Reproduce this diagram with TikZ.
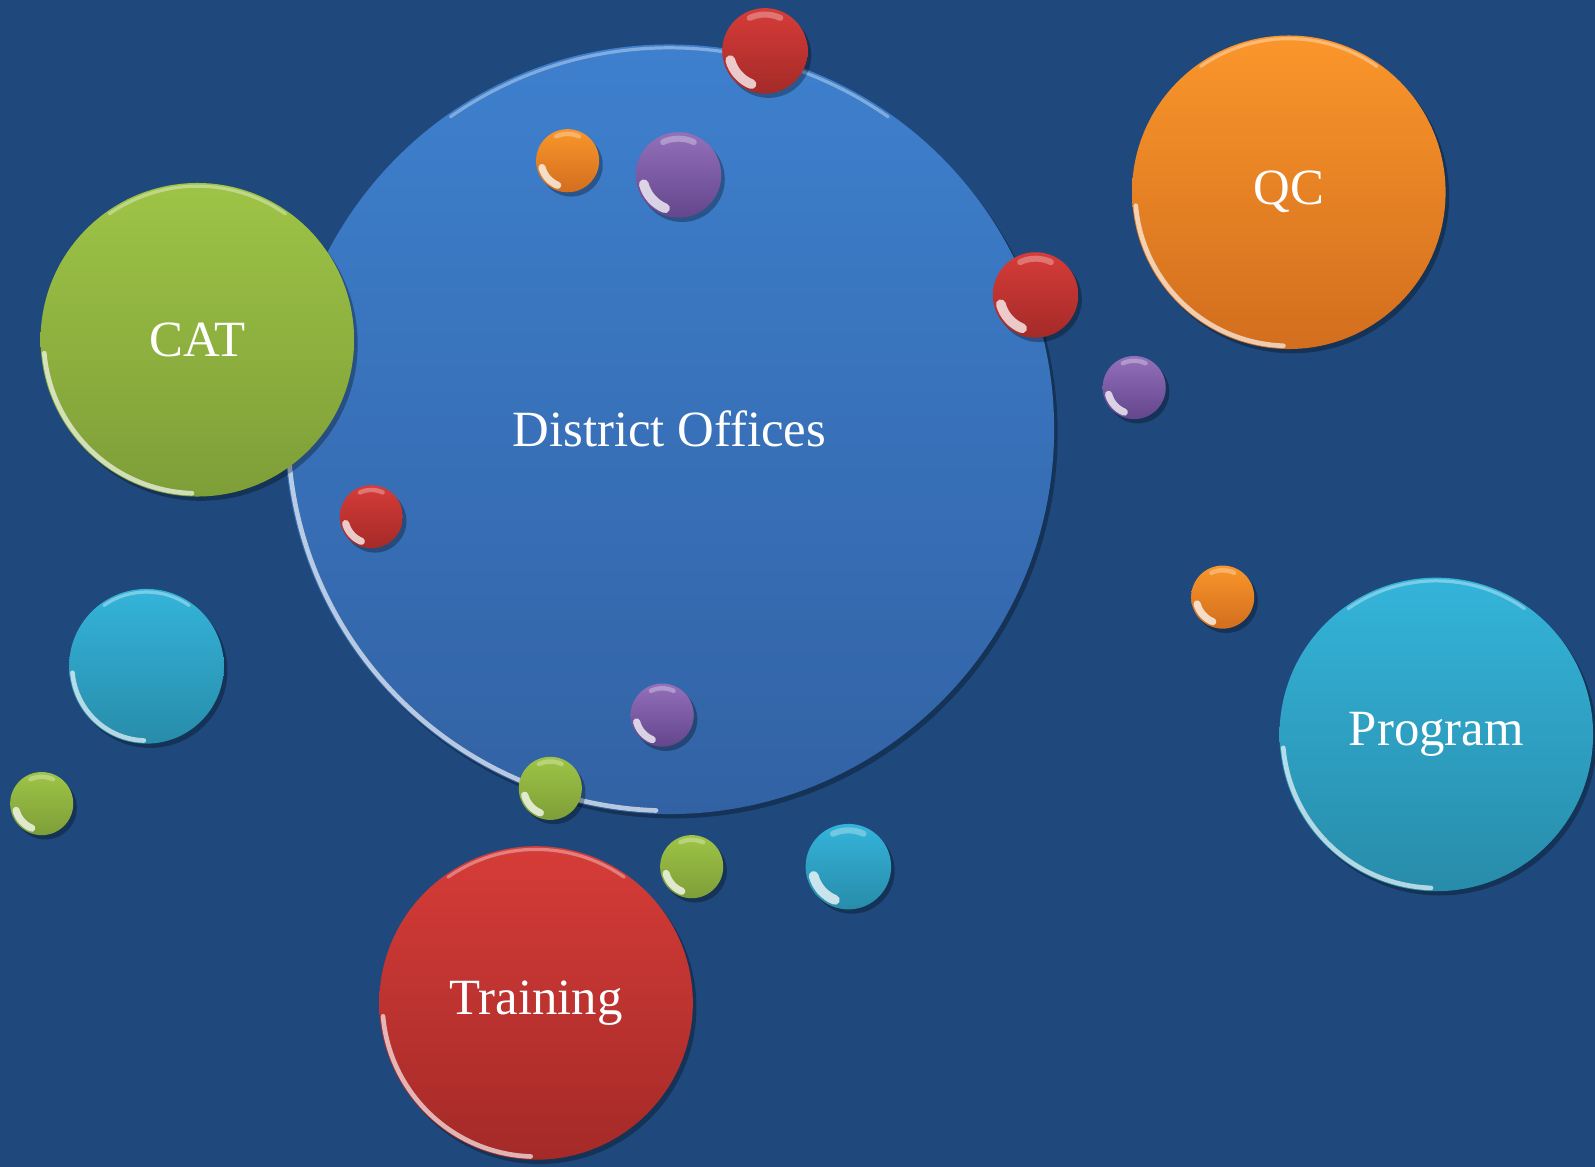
\documentclass[tikz,border=0pt]{standalone}
\usepackage{fontspec}
\setmainfont{Liberation Serif}
\usetikzlibrary{shadows}
\definecolor{bgblue}{RGB}{31,73,125}
\definecolor{bluetop}{RGB}{62,128,206}
\definecolor{bluebot}{RGB}{50,98,164}
\definecolor{greentop}{RGB}{158,196,70}
\definecolor{greenbot}{RGB}{126,158,56}
\definecolor{redtop}{RGB}{214,60,56}
\definecolor{redbot}{RGB}{164,42,40}
\definecolor{orangetop}{RGB}{250,150,42}
\definecolor{orangebot}{RGB}{210,110,30}
\definecolor{cyantop}{RGB}{52,180,218}
\definecolor{cyanbot}{RGB}{40,140,170}
\definecolor{purpletop}{RGB}{146,112,186}
\definecolor{purplebot}{RGB}{100,70,140}
\tikzset{
  bub/.style={circle, inner sep=0pt, text=white,
    font=\fontsize{14.2}{17}\selectfont,
    drop shadow={shadow xshift=1pt, shadow yshift=-1.2pt, opacity=0.3, fill=black}},
  rim/.style={white, opacity=0.65, line cap=round}
}
\newcommand\mybubble[6]{%
  \node[bub, minimum size={#4*0.02cm}, top color=#5top, bottom color=#5bot] (#1) at ({#2},{1147-#3}) {#6};
  \draw[rim, line width=1.3pt] (#1.center) ++(185:{#4-3}) arc[start angle=185, end angle=268, radius={#4-3}];
  \draw[rim, opacity=0.35, line width=0.9pt] (#1.center) ++(55:{#4-3}) arc[start angle=55, end angle=125, radius={#4-3}];
}
\newcommand\myball[5]{%
  \node[bub, minimum size={#4*0.02cm}, top color=#5top, bottom color=#5bot] (#1) at ({#2},{1147-#3}) {};
  \draw[rim, opacity=0.75, line width={#4*0.065pt}] (#1.center) ++(195:{#4*0.84}) arc[start angle=195, end angle=248, radius={#4*0.84}];
  \draw[rim, opacity=0.3, line width={#4*0.04pt}] (#1.center) ++(65:{#4*0.85}) arc[start angle=65, end angle=115, radius={#4*0.85}];
}
\begin{document}
\begin{tikzpicture}[x=0.01cm, y=0.01cm]
\fill[bgblue] (0,0) rectangle (1568,1147);
\useasboundingbox (0,0) rectangle (1568,1147);
\mybubble{district}{658}{422}{378}{blue}{District Offices}
\mybubble{cat}{194}{334}{154}{green}{CAT}
\mybubble{qc}{1267}{189}{154}{orange}{QC}
\mybubble{program}{1412}{722}{154}{cyan}{Program}
\mybubble{training}{527}{986}{154}{red}{Training}
\mybubble{cyanmid}{144}{655}{76}{cyan}{}
\myball{r1}{752}{50}{42}{red}
\myball{o1}{558}{158}{31}{orange}
\myball{p1}{667}{172}{42}{purple}
\myball{r2}{1018}{290}{42}{red}
\myball{p2}{1115}{381}{31}{purple}
\myball{r3}{365}{508}{31}{red}
\myball{o2}{1202}{587}{31}{orange}
\myball{p3}{651}{703}{31}{purple}
\myball{g1}{541}{775}{31}{green}
\myball{g2}{680}{852}{31}{green}
\myball{c2}{834}{852}{42}{cyan}
\myball{g3}{41}{790}{31}{green}
\end{tikzpicture}
\end{document}
